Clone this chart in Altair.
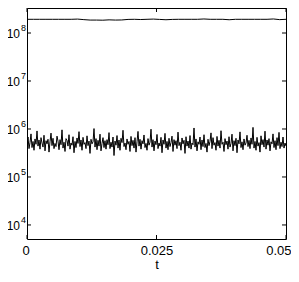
import altair as alt
import pandas as pd

T_END = 0.05

# lower (noisy) series, in units of 1e5
low_vals = [
    4.6, 6.8, 3.9, 5.2, 7.9, 4.1, 5.5, 3.6, 6.2, 4.8, 9.1, 4.4, 5.9, 3.8, 6.6, 5.1, 4.2, 7.4, 3.5, 5.7,
    4.9, 6.1, 3.3, 5.4, 8.2, 4.5, 6.4, 3.9, 5.0, 4.3, 7.1, 5.6, 3.7, 6.0, 4.7, 9.6, 4.0, 5.3, 3.4, 6.3,
    5.8, 4.4, 7.6, 3.8, 5.1, 4.6, 6.9, 3.2, 5.5, 4.1, 6.5, 5.0, 8.8, 4.3, 5.9, 3.6, 6.7, 4.8, 5.2, 3.9,
    7.2, 4.5, 5.6, 3.1, 6.1, 4.9, 5.4, 10.2, 4.2, 6.3, 3.7, 5.8, 4.4, 7.8, 3.5, 5.0, 6.6, 4.1, 5.7, 3.8,
    6.0, 4.7, 8.4, 3.9, 5.3, 4.2, 6.8, 2.8, 5.6, 4.6, 7.3, 4.0, 5.9, 3.6, 6.4, 5.2, 9.4, 4.3, 5.1, 3.7,
    6.2, 4.8, 5.5, 3.4, 7.0, 4.5, 5.8, 4.0, 6.6, 3.3, 5.4, 8.9, 4.4, 6.1, 3.8, 5.7, 4.9, 7.5, 4.1, 5.0,
    3.6, 6.3, 4.6, 5.3, 9.9, 4.2, 6.0, 3.5, 5.6, 4.7, 7.7, 3.9, 5.1, 4.4, 6.7, 3.2, 5.9, 4.8, 8.1, 4.0,
    5.5, 3.7, 6.4, 4.3, 5.2, 7.1, 3.4, 6.0, 4.6, 5.7, 3.9, 8.6, 4.5, 5.3, 3.6, 6.5, 4.9, 5.8, 3.1, 6.9,
    4.4, 5.6, 4.0, 7.3, 3.8, 5.1, 4.7, 10.5, 4.2, 6.2, 3.5, 5.4, 4.8, 6.8, 3.7, 5.9, 4.3, 7.6, 4.1, 5.0,
    3.3, 6.1, 4.5, 5.5, 8.3, 3.9, 6.6, 4.6, 5.2, 3.6, 7.0, 4.4, 5.8, 4.0, 9.2, 4.8, 5.3, 3.4, 6.3, 4.7,
    5.6, 3.8, 6.9, 4.2, 5.0, 7.8, 3.5, 5.7, 4.5, 6.4, 3.2, 5.9, 4.9, 8.7, 4.1, 5.4, 3.7, 6.2, 4.6, 5.1,
    7.4, 4.3, 5.8, 3.9, 6.5, 4.8, 10.8, 4.0, 5.5, 3.6, 6.7, 4.4, 5.2, 3.3, 7.2, 4.7, 6.0, 4.2, 9.0, 3.8,
    5.9, 4.6, 6.3, 3.5, 5.4, 4.9, 7.9, 4.1, 5.7, 3.7, 6.6, 4.5, 8.5, 3.9, 5.3, 4.3, 6.8, 4.0, 5.1, 4.4,
]

# upper (nearly flat) series, in units of 1e8
high_vals = [
    1.93, 1.93, 1.93, 1.93, 1.93, 1.93, 1.93, 1.93, 1.95, 1.90, 1.86, 1.86, 1.85, 1.88,
    1.86, 1.87, 1.92, 1.93, 1.91, 1.93, 1.95, 1.92, 1.89, 1.92, 1.93, 1.93, 1.93, 1.93,
    1.96, 1.93, 1.93, 1.93, 1.89, 1.93, 1.93, 1.93, 1.93, 1.93, 1.93, 1.96, 1.90, 1.93,
]

y_ticks = [1e4, 1e5, 1e6, 1e7, 1e8]
y_exps = ["4", "5", "6", "7", "8"]
x_ticks = [0, 0.025, 0.05]

W, H = 259, 231
Y_DOMAIN = [5100, 3.32e8]
FONT = "Liberation Sans"

n_low = len(low_vals)
n_high = len(high_vals)
low_df = pd.DataFrame({
    "t": [i * T_END / (n_low - 1) for i in range(n_low)],
    "v": [v * 1e5 for v in low_vals],
})
high_df = pd.DataFrame({
    "t": [i * T_END / (n_high - 1) for i in range(n_high)],
    "v": [v * 1e8 for v in high_vals],
})
ytick_df = pd.DataFrame({"v": y_ticks, "e": y_exps, "b": ["10"] * len(y_ticks)})
xtick_df = pd.DataFrame({"t": x_ticks})

xs = alt.Scale(domain=[0, T_END], nice=False, zero=False)
ys = alt.Scale(type="log", domain=Y_DOMAIN, nice=False)

xaxis = alt.Axis(
    values=x_ticks, format=".3~f", title="t", domain=False, ticks=False, grid=False,
    labelFont=FONT, labelFontSize=13, labelColor="black", labelPadding=5,
    labelFlush=True, labelFlushOffset=5,
    titleFont=FONT, titleFontSize=13, titleFontWeight="normal", titleColor="black",
    titlePadding=1)

def X():
    return alt.X("t:Q", scale=xs, axis=xaxis, title="t")

def Y():
    return alt.Y("v:Q", scale=ys, axis=None)

low = alt.Chart(low_df).mark_line(color="black", strokeWidth=1, clip=True).encode(x=X(), y=Y())
high = alt.Chart(high_df).mark_line(color="black", strokeWidth=1, clip=True).encode(x=X(), y=Y())

tick_len = 4
lt = alt.Chart(ytick_df).mark_rule(color="black", strokeWidth=1).encode(
    y=Y(), x=alt.value(0), x2=alt.value(tick_len))
rt = alt.Chart(ytick_df).mark_rule(color="black", strokeWidth=1).encode(
    y=Y(), x=alt.value(W - tick_len), x2=alt.value(W))
bt = alt.Chart(xtick_df).mark_rule(color="black", strokeWidth=1).encode(
    x=X(), y=alt.value(H - tick_len), y2=alt.value(H))
tt = alt.Chart(xtick_df).mark_rule(color="black", strokeWidth=1).encode(
    x=X(), y=alt.value(0), y2=alt.value(tick_len))

base_lab = alt.Chart(ytick_df).mark_text(
    align="right", baseline="middle", font=FONT, fontSize=12, color="black", dy=1
).encode(y=Y(), x=alt.value(-7), text="b:N")
exp_lab = alt.Chart(ytick_df).mark_text(
    align="left", baseline="middle", font=FONT, fontSize=9, color="black", dy=-5
).encode(y=Y(), x=alt.value(-6), text="e:N")

chart = alt.layer(low, high, lt, rt, bt, tt, base_lab, exp_lab).properties(
    width=W, height=H,
    autosize=alt.AutoSizeParams(type="none"),
    padding={"left": 19, "top": 0, "right": 5, "bottom": 33},
    background="white",
).configure_view(stroke="black", strokeWidth=1)

chart.save("out.html", embed_options={"renderer": "svg", "actions": False})
